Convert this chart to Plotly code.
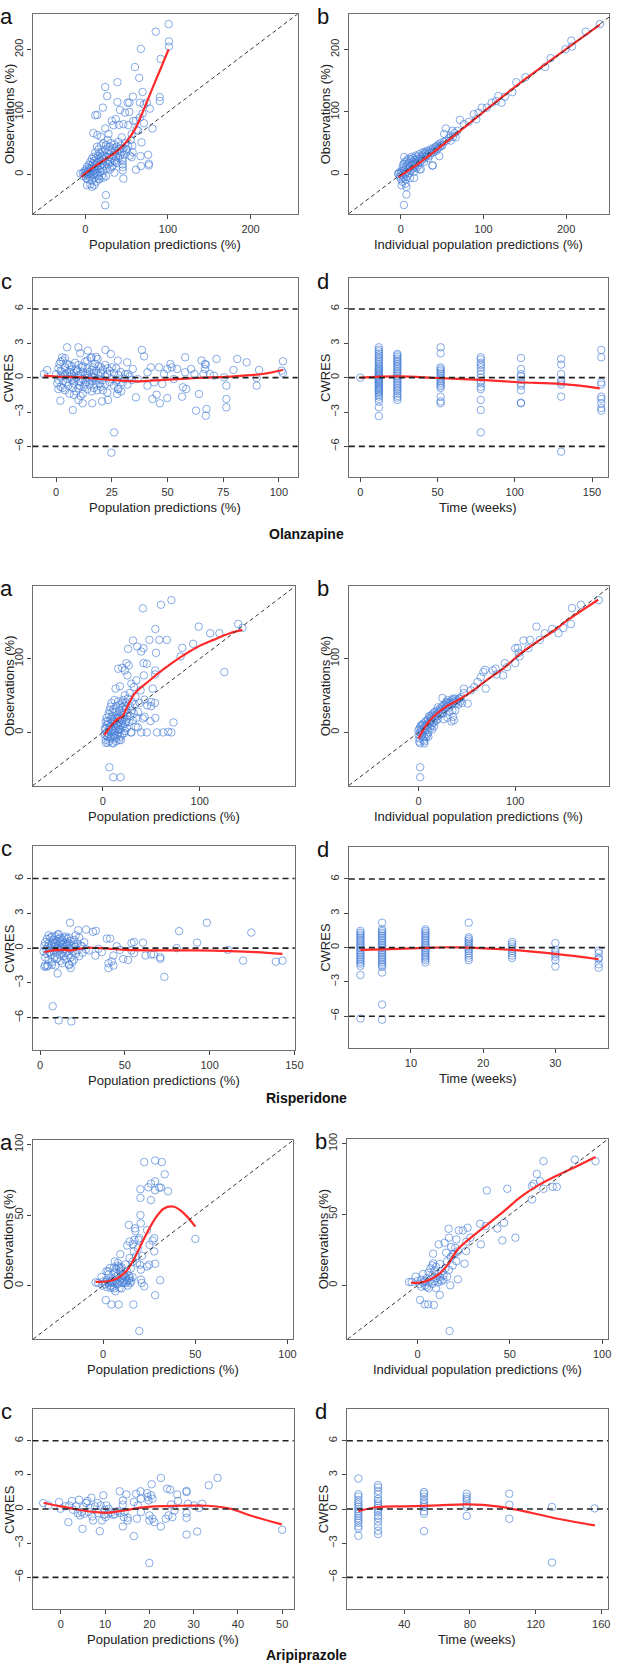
import plotly.graph_objects as go

W, H = 622, 1667

# ---------------- data ----------------
# Olanzapine a: population predictions vs observations
olz_a_points = [
    (100.8, 240.7), (85.2, 228.6), (101.2, 213), (101.2, 204.8), (67.2, 201), (91.2, 185), (60, 172),
    (65.2, 154.5), (24, 140), (38.8, 147.6), (26.4, 125.4), (57.6, 124.3), (69.2, 132), (90, 123.8),
    (90, 117.5), (38.8, 115.9), (51.2, 114.8), (53.2, 114.8), (66, 114.8), (70.8, 112), (74.4, 114.8),
    (78, 105.3), (21.2, 106.9), (12, 94.7), (14.4, 95.2), (42, 103), (53.2, 100), (48, 98.9), (66, 91),
    (69.2, 97.4), (58, 85.7), (61.2, 85.7), (32, 85.7), (36.8, 88.4), (46, 80.4), (40.8, 79.4), (34, 78.8),
    (52, 78.8), (70.8, 82), (81.2, 73.5), (24, 73.5), (9.6, 66.1), (14.4, 63), (18.8, 60.3), (28, 64.6),
    (44, 59.3), (56, 64.6), (62, 71.4), (64, 69.8), (68, 51.3), (76, 31.2), (76.8, 16.9), (76.8, 14.3),
    (66.8, 29.1), (67.2, 13.2), (61.2, 7.4), (45.2, 21.2), (45.2, 15.9), (45.2, 11.6), (45.2, 6.3),
    (46, -6.9), (35.2, 2.6), (24.8, -33.3), (24, -49.7), (56, 27.5), (56.8, 46), (50, 40.7), (57.2, 35.4),
    (39.2, 38.1), (36, 19.6), (32, 11.6), (6, -15.9), (2, -17.5), (8, -20.1), (10.8, -17.5), (16, -6.9),
    (22, -5.3), (-6, 1.1),
    (-3, 2), (-2, -3), (-1, 5), (0, -1), (0, 3), (1, 8), (1, -6), (2, 0), (2, 12), (3, 4), (3, -8), (4, 6),
    (4, 15), (5, 1), (5, -4), (5, 10), (6, 20), (6, 3), (7, -2), (7, 9), (8, 14), (8, 25), (8, -10), (9, 5),
    (9, 18), (10, 0), (10, 11), (10, 28), (11, -5), (11, 7), (11, 22), (12, 15), (12, 3), (12, 35), (13, 9),
    (13, 26), (13, -12), (14, 18), (14, 44), (14, 1), (15, 12), (15, 30), (15, -3), (16, 20), (16, 8),
    (16, 40), (17, 25), (17, -8), (18, 14), (18, 33), (18, 4), (19, 22), (19, 46), (20, 10), (20, 28),
    (20, -2), (21, 36), (21, 17), (22, 24), (22, 6), (22, 50), (23, 30), (23, 14), (24, 40), (24, 20),
    (25, -3), (25, 28), (25, 47), (26, 34), (26, 10), (27, 22), (27, 55), (28, 38), (28, 16), (29, 28),
    (29, 44), (30, 20), (30, 8), (31, 35), (31, 50), (32, 26), (33, 42), (33, 14), (34, 30), (35, 22),
    (35, 48), (36, 38), (37, 28), (38, 44), (38, 18), (39, 34), (40, 26), (40, 52), (41, 40), (42, 30),
    (43, 46), (44, 36), (45, 25), (46, 42), (47, 32), (48, 50), (50, 38), (52, 45), (54, 30), (55, 55),
]
olz_a_smooth_x = [-4.8, 2, 16, 32, 44, 52, 60, 68, 76, 84, 92, 100.8]
olz_a_smooth_y = [-4.2, 3.7, 16.9, 31, 44, 56, 72, 95, 121, 147, 172, 200.5]

# Olanzapine b: individual predictions vs observations
olz_b_points = [
    (240.9, 240.7), (223.8, 228.6), (206.3, 214.3), (207.1, 204.8), (199.2, 200.5), (181.3, 186.2),
    (174.6, 172), (150.8, 155.6), (139.7, 147.6), (134.9, 131.7), (125.8, 124.3), (117.9, 125.4),
    (115.1, 117.5), (109.9, 114.8), (121.8, 114.8), (104, 106.9), (98, 106.9), (94, 98.9), (88.1, 96.3),
    (91.3, 88.4), (82.1, 84.1), (71.4, 87.3), (76.2, 80.4), (68.3, 69.8), (62.3, 69.8), (54.4, 73.5),
    (52.4, 64.6), (60.3, 54), (66.3, 59.3), (48.4, 46), (46.4, 29.1), (38.5, 14.3), (22.6, 7.9), (3.2, 16.9),
    (4, 27.5), (5.6, -14.8), (0.8, -17.5), (6.7, -20.1), (6.7, -32.3), (3.6, -49.2), (15.9, -5.8), (-3.2, 1.1),
    (-3, 0), (-2, 3), (-1, -4), (0, 2), (0, -8), (1, 5), (1, -2), (2, 10), (2, -12), (3, 1), (3, 14), (4, -5),
    (4, 7), (5, 20), (5, 0), (6, 12), (6, -8), (7, 4), (7, 22), (8, -3), (8, 15), (9, 8), (9, 25), (10, 2),
    (10, 18), (11, 11), (11, -6), (12, 24), (12, 6), (13, 16), (13, 28), (14, 9), (14, 20), (15, 14),
    (15, 26), (16, 4), (16, 18), (17, 23), (17, 12), (18, 30), (18, 17), (19, 10), (19, 25), (20, 20),
    (20, 28), (21, 14), (22, 24), (22, 32), (23, 19), (24, 27), (24, 8), (25, 22), (26, 30), (26, 35),
    (27, 25), (28, 32), (28, 20), (29, 36), (30, 28), (30, 34), (31, 30), (32, 38), (33, 26), (33, 33),
    (34, 36), (35, 30), (36, 40), (37, 34), (38, 38), (38, 14), (39, 42), (40, 36), (41, 40), (42, 44),
    (43, 38), (44, 46), (45, 42), (46, 48), (47, 44), (48, 50), (50, 46), (52, 52), (55, 54), (58, 58),
    (60, 62), (63, 60), (65, 66),
]
olz_b_smooth_x = [-3, 20, 44, 100, 150, 241]
olz_b_smooth_y = [-4, 16, 40, 100, 152, 240]

# Olanzapine c: population predictions vs CWRES
olz_c_points = [
    (-5.5, 0.32), (-4, 0.67), (4.9, 2.65), (10, 2.65), (2.7, 1.78), (10.8, 2.13), (14.2, 2.36), (22.1, 2.42),
    (24.5, 2.07), (15.9, 1.78), (18.6, 1.63), (27.7, 1.49), (31.9, 1.34), (38.5, 2.42), (39.5, 1.86),
    (1.9, -2.01), (7.5, -2.83), (10, -1.95), (11.9, -2.24), (16.2, -2.24), (20.6, -2.07), (23.3, -1.95),
    (26, -4.78), (24.8, -6.55), (27.4, -1.43), (29.2, -1.19), (35.8, -1.72), (43.2, -1.86), (45.1, -1.49),
    (46.6, -2.24), (49.9, -1.78), (56.5, -1.66), (58.4, -0.99), (56.9, -0.84), (62.8, -2.88), (64.1, -1.43),
    (67.5, -2.74), (67.2, -3.32), (76.4, -2.59), (76.4, -1.86), (76.4, -0.70), (90, -0.70), (90, -0.03),
    (91.1, 0.67), (101.2, 0.61), (101.8, 1.43), (101.8, 0.41), (85.5, 1.34), (81.3, 1.63), (72, 1.63),
    (79.6, 0.67), (75.4, 0.03), (70.8, 0.17), (65.3, 1.49), (66.8, 1.19), (66.8, 0.76), (67.2, 1.14),
    (62.1, 0.32), (60.6, 0.76), (57.9, 1.78), (57.9, 0.47), (54.3, 0.76), (51.3, 1.19), (51.9, 0.9),
    (49.9, 0.76), (46.2, 0.9), (69, 0.32), (66.1, 0.32), (52.8, -0.12), (48.4, 0.32), (44, -0.41),
    (47.6, -0.55), (41, -0.70), (41, 0.47), (42.5, 0.9), (36.6, -0.12), (34.4, 0.76), (32.2, 0.32),
    (30.7, -0.12), (27.4, -0.2), (27.7, -0.99),
    (0, 0.3), (0.5, -0.5), (1, 0.8), (1, -0.2), (1.5, 1.2), (2, 0.1), (2, -0.8), (2.5, 0.5), (3, -0.3),
    (3, 1.5), (3.5, 0.2), (4, -1.1), (4, 0.9), (4.5, -0.4), (5, 0.4), (5, 1.2), (5.5, -0.7), (6, 0.1),
    (6, -1.4), (6.5, 0.7), (7, -0.2), (7, 1.0), (7.5, -0.9), (8, 0.4), (8, -0.5), (8.5, 1.3), (9, 0.0),
    (9, -1.2), (9.5, 0.6), (10, -0.3), (10, 1.1), (10.5, -0.7), (11, 0.3), (11, -1.6), (11.5, 0.9),
    (12, -0.1), (12, 0.5), (12.5, -0.8), (13, 1.4), (13, 0.2), (13.5, -0.4), (14, 0.8), (14, -1.0),
    (14.5, 0.0), (15, 0.5), (15, -0.6), (15.5, 1.7), (16, 0.1), (16, -0.3), (16.5, 0.9), (17, -0.9),
    (17, 0.4), (17.5, 1.2), (18, -0.2), (18, 0.6), (18.5, -1.1), (19, 0.2), (19, 1.0), (19.5, -0.5),
    (20, 0.4), (20, -0.8), (21, 0.7), (21, -0.2), (22, 1.1), (22, -0.6), (23, 0.3), (23, -1.3), (24, 0.6),
    (24, -0.4), (25, 0.9), (25, -0.1), (26, -0.7), (26, 0.4), (27, 0.8), (27, -0.3), (28, 0.2), (28, -1.0),
    (29, 0.5), (30, -0.4), (31, 0.3), (32, -0.6), (33, 0.1), (34, -0.2), (2, 0.6), (3, -0.9), (4, 0.3),
    (5, -0.1), (6, 0.5), (7, 0.3), (8, -0.1), (9, 0.7), (10, 0.2), (11, -0.4), (12, 1.0), (13, -0.6),
    (14, 0.3), (15, -0.2), (16, 0.7), (17, 0.0), (18, -0.6), (19, -0.1), (20, 0.9), (21, -1.1), (22, 0.1),
    (23, 0.8), (1, -1.0), (2, 1.4), (4, 1.7), (6, 1.1), (8, -1.5), (10, -0.9), (12, -1.4), (14, 1.5),
    (16, -1.2), (18, 1.8),
]
olz_c_smooth_x = [-5.5, 0, 11.5, 18.9, 29.2, 36.6, 48.4, 63.1, 77.9, 92.6, 101.8]
olz_c_smooth_y = [0.17, 0.09, 0.03, -0.12, -0.26, -0.32, -0.2, -0.03, 0.09, 0.32, 0.67]

# Olanzapine d: time (weeks) vs CWRES, one list per visit
olz_d_visits = [0, 12, 24, 52, 78, 104, 130, 156]
olz_d_cwres = [
    [0.0],
    [2.65, 2.45, 2.3, 2.1, 1.95, 1.8, 1.65, 1.5, 1.35, 1.2, 1.05, 0.9, 0.8, 0.7, 0.6, 0.5, 0.4, 0.3, 0.2,
     0.1, 0.0, -0.1, -0.2, -0.3, -0.4, -0.5, -0.6, -0.7, -0.8, -0.9, -1.0, -1.1, -1.2, -1.35, -1.5, -1.65,
     -1.86, -2.1, -2.59, -3.35],
    [2.07, 1.95, 1.8, 1.65, 1.5, 1.35, 1.2, 1.05, 0.9, 0.75, 0.6, 0.45, 0.3, 0.15, 0.0, -0.15, -0.3, -0.45,
     -0.6, -0.75, -0.9, -1.05, -1.2, -1.4, -1.6, -1.75, -1.95],
    [2.65, 2.13, 0.9, 0.75, 0.6, 0.45, 0.3, 0.15, 0.0, -0.15, -0.3, -0.45, -0.6, -0.75, -0.9, -1.66, -2.07,
     -2.24],
    [1.78, 1.6, 1.3, 1.1, 0.9, 0.6, 0.3, 0.0, -0.3, -0.5, -0.8, -1.0, -1.95, -2.83, -4.78],
    [1.72, 0.76, 0.3, 0.1, -0.2, -0.5, -0.7, -1.1, -2.18, -2.24],
    [1.63, 1.14, 0.32, -0.2, -0.4, -0.6, -1.66, -6.46],
    [2.42, 1.78, -0.41, -0.6, -1.66, -1.86, -2.24, -2.65, -2.88],
]
olz_d_smooth_x = [0, 24, 50, 78, 103, 130, 155]
olz_d_smooth_y = [0, 0.12, -0.03, -0.2, -0.4, -0.55, -0.93]

# Risperidone a
ris_a_points = [
    (70.8, 179.7), (60, 173.4), (41.4, 168.5), (54.2, 140.5), (99, 143.7), (110.8, 134.7), (120.3, 134.7),
    (139.7, 147.3), (144.1, 141.9), (31.2, 124.8), (48.1, 125.7), (58.3, 125.7), (66.1, 125.7), (35.6, 116.7),
    (42, 114.4), (26.1, 113.5), (39.7, 109.9), (54.9, 108.1), (82, 114.9), (93.2, 120.3), (80.3, 103.2),
    (42, 94.1), (45.4, 93.2), (24.4, 94.1), (26.8, 91), (15.9, 86.5), (20, 87.8), (22.7, 84.2), (25.4, 77.5),
    (42.4, 77.5), (54.2, 84.2), (53.9, 78.8), (125.4, 82), (34.6, 70.7), (29.5, 66.2), (13.2, 59.5),
    (17.6, 62.6), (32.2, 61.7), (51.5, 59.5), (39, 57.2), (27.8, 53.6), (22.7, 50.5), (33.6, 48.2),
    (43.1, 44.6), (38, 40.1), (49.8, 41.4), (53.9, 40.1), (45.8, 36.9), (49.8, 35.6), (36.3, 27.9),
    (43.1, 21.2), (41.4, 18.9), (54.2, 19.8), (49.2, 15.3), (36.3, 6.8), (39.7, 0), (45.4, 0), (55.9, 0),
    (62.4, 0), (67.5, 0.9), (70.8, 0), (72.9, 13.5), (29.5, 0), (6.8, -47.3), (10.8, -60.8), (18.3, -60.8),
    (3.1, -14), (10.8, -14.9), (18.6, -10.4),
    (2, -3), (3, 5), (3, -10), (4, 10), (4, 0), (5, -6), (5, 15), (6, 3), (6, 25), (7, -12), (7, 8), (7, 30),
    (8, 0), (8, 18), (9, -5), (9, 12), (9, 40), (10, 4), (10, 22), (10, -14), (11, 9), (11, 32), (11, -2),
    (12, 15), (12, 2), (12, 44), (13, -8), (13, 20), (13, 28), (14, 6), (14, 12), (14, 36), (15, -4),
    (15, 24), (15, 18), (16, 8), (16, 42), (16, 0), (17, 14), (17, 30), (17, -10), (18, 22), (18, 4),
    (18, 38), (19, 10), (19, 26), (20, 16), (20, -3), (20, 34), (21, 8), (21, 44), (22, 20), (22, 28),
    (23, 2), (23, 12), (24, 32), (24, 40), (25, 18), (25, 6), (26, 26), (26, 46), (27, 14), (28, 36),
    (28, 22), (29, 0), (30, 30), (30, 42), (31, 16), (32, 26), (33, 38), (34, 8), (35, 20), (4, 20),
    (5, -14), (6, -2), (8, -8), (10, 28), (12, -5), (14, -12), (16, 20), (18, -6), (20, 40), (22, -1),
    (24, 14), (8, 35), (6, 12), (3, 15), (9, 2), (11, 16), (13, 4), (15, 10), (17, 4), (19, 18), (21, 24),
    (23, 36), (2, 5), (4, -4),
]
ris_a_smooth_x = [1.7, 9.2, 15.9, 20, 24.4, 32.9, 46.4, 63.4, 80.3, 97.3, 114.2, 131.2, 144]
ris_a_smooth_y = [-3.6, 9.9, 18.9, 21.2, 32.4, 52.7, 68.5, 86.5, 102.3, 115.8, 125.7, 134.7, 139.2]

# Risperidone b
ris_b_points = [
    (186.4, 179.7), (167.8, 173.4), (158.6, 168.9), (157.6, 147.3), (149.8, 141.9), (144.7, 134.7),
    (138.3, 140.5), (130.5, 134.7), (122, 143.7), (125.4, 125.7), (115.3, 125.7), (108.5, 124.8),
    (113.6, 114.4), (102.7, 114.9), (100, 114.4), (103.4, 108.1), (104.4, 103.2), (100, 94.1), (89.2, 94.1),
    (91.5, 88.7), (87.5, 77.5), (80.7, 78.8), (76.9, 84.2), (79.7, 86.5), (68.8, 85.1), (67.1, 82),
    (64.4, 75.2), (69.5, 59.5), (61, 68.5), (57.6, 61.7), (54.2, 57.2), (46.8, 59.5), (46.8, 53.6),
    (50.8, 39.2), (42.4, 45.9), (35.6, 45.9), (24.7, 46.8), (28.8, 41.4), (36.6, 16.7), (35.6, 21.2),
    (25.4, 25.7), (1.7, -47.3), (1.7, -60.8), (0.7, -12.6), (1.7, -14.9), (6.1, -14.9), (10.2, -5.9),
    (0, -3), (0, 3), (1, -8), (1, 5), (2, 0), (2, 8), (3, -5), (3, 4), (4, 10), (4, -2), (5, 2), (5, 12),
    (6, 6), (6, -6), (7, 14), (7, 9), (8, 4), (8, 16), (9, 11), (9, -3), (10, 18), (10, 8), (11, 14),
    (11, 22), (12, 12), (12, 6), (13, 20), (13, 16), (14, 24), (14, 10), (15, 18), (15, 26), (16, 22),
    (16, 14), (17, 28), (17, 20), (18, 24), (18, 16), (19, 30), (19, 22), (20, 26), (20, 18), (21, 28),
    (22, 32), (22, 24), (23, 30), (24, 26), (24, 34), (25, 36), (26, 30), (27, 38), (27, 32), (28, 34),
    (29, 40), (30, 36), (30, 44), (31, 38), (32, 40), (32, 34), (33, 42), (34, 38), (35, 44), (36, 40),
    (37, 42), (38, 46), (39, 40), (40, 44), (41, 38), (42, 46), (43, 42), (44, 48), (45, 40), (14, 4),
    (10, 0), (6, -12), (8, -6), (3, 10), (5, -10), (12, 22), (16, 8), (20, 34), (26, 18), (30, 20),
    (32, 28), (35, 30), (34, 15), (38, 30),
]
ris_b_smooth_x = [0, 6.8, 15.3, 27.1, 40.7, 54.2, 71.2, 88.1, 105.1, 122, 139, 155.9, 185.8]
ris_b_smooth_y = [-8.1, 7.7, 21.2, 33.8, 43.7, 55, 71.6, 87.4, 106.8, 122.5, 137.4, 154.1, 180.2]

# Risperidone c
ris_c_points = [
    (17.6, 2.18), (22.5, 1.54), (27.1, 1.6), (31.2, 1.4), (32.9, 1.49), (10.3, 1.17), (82, 1.46),
    (98.4, 2.18), (92.6, 0.47), (124.6, 1.34), (80.6, 0), (110.7, -0.15), (119.8, -1.08), (139.1, -1.17),
    (143, -1.08), (73.3, -2.48), (70.9, -0.79), (70.9, -0.93), (65.5, -0.55), (67.1, -0.55), (60.7, 0.47),
    (62.2, -0.64), (55.4, 0.52), (53.9, 0.44), (53.9, -0.2), (55.4, -0.44), (51.9, -1.02), (49, -0.93),
    (47.1, -0.15), (45.2, 0.15), (43.2, -0.64), (43.2, -1.51), (40.3, -1.31), (40.3, -1.72), (42.2, -1.14),
    (41.3, 0.82), (39.3, 0.82), (36.4, -0.35), (34.5, -0.06), (32.6, -0.64), (28.7, -0.2), (24.8, 0.15),
    (7.4, -5.01), (10.9, -6.23), (18.4, -6.32), (2.5, -1.6), (4.5, -1.51), (10.3, -2.18), (18, -1.72),
    (17.1, -1.46), (7, -1.43),
    (2, -0.3), (2.5, 0.2), (3, -0.8), (3, 0.5), (3.5, -0.1), (4, 0.8), (4, -0.5), (4.5, 0.1), (5, -1.0),
    (5, 0.4), (5.5, -0.3), (6, 0.9), (6, 0.0), (6.5, -0.6), (7, 0.3), (7, -1.2), (7.5, 0.7), (8, -0.2),
    (8, 0.5), (8.5, -0.8), (9, 0.1), (9, 1.0), (9.5, -0.4), (10, 0.6), (10, -0.9), (10.5, 0.2), (11, -0.2),
    (11, 0.8), (11.5, -0.6), (12, 0.4), (12, -1.1), (12.5, 0.0), (13, 0.7), (13, -0.4), (13.5, 0.3),
    (14, -0.7), (14, 0.9), (14.5, -0.1), (15, 0.5), (15, -1.0), (15.5, 0.2), (16, -0.3), (16, 0.8),
    (16.5, -0.6), (17, 0.4), (17, -1.4), (17.5, 0.0), (18, 0.6), (18, -0.8), (19, 0.2), (19, -0.3),
    (20, 0.7), (20, -1.0), (21, 0.1), (21, -0.5), (22, 0.4), (22, -0.2), (23, 0.9), (23, -0.7), (24, 0.2),
    (25, -0.4), (26, 0.5), (27, -0.1), (5, 1.1), (7, 1.0), (9, -1.5), (11, 1.2), (13, -1.3), (15, 1.0),
    (17, 0.9), (19, -1.2), (21, 1.1), (3, -1.5), (4, -1.6), (6, -0.4), (8, 0.2), (10, 0.0), (12, 0.9),
    (14, 0.1), (16, 0.3), (18, -0.1), (20, 0.3), (9, 0.4), (11, -0.1), (13, 0.5), (15, -0.4),
]
ris_c_smooth_x = [2.5, 7.4, 13.2, 18, 22.9, 30.6, 38.4, 50, 73.3, 92.6, 112, 127.5, 143]
ris_c_smooth_y = [-0.35, -0.2, -0.15, -0.2, -0.06, 0.03, -0.03, -0.15, -0.2, -0.2, -0.26, -0.35, -0.5]

# Risperidone d
ris_d_visits = [3, 6, 12, 18, 24, 30, 36]
ris_d_cwres = [
    [1.46, 1.3, 1.15, 1.0, 0.85, 0.7, 0.55, 0.4, 0.25, 0.1, -0.05, -0.2, -0.35, -0.5, -0.65, -0.8, -0.95,
     -1.1, -1.25, -1.4, -1.6, -2.4, -6.2],
    [2.18, 1.6, 1.45, 1.3, 1.15, 1.0, 0.85, 0.7, 0.55, 0.4, 0.25, 0.1, -0.05, -0.2, -0.35, -0.5, -0.65,
     -0.8, -0.95, -1.1, -1.25, -1.4, -1.55, -1.7, -2.18, -4.98, -6.3],
    [1.6, 1.45, 1.3, 1.15, 1.0, 0.85, 0.7, 0.55, 0.4, 0.25, 0.1, -0.05, -0.2, -0.35, -0.5, -0.65, -0.8,
     -0.95, -1.1, -1.3],
    [2.18, 0.9, 0.75, 0.6, 0.45, 0.3, 0.15, 0.0, -0.15, -0.3, -0.5, -0.7, -0.9, -1.1],
    [0.5, 0.3, 0.1, -0.1, -0.3, -0.5, -0.7, -0.9],
    [0.4, -0.2, -0.4, -0.6, -0.8, -1.1, -1.66],
    [-0.26, -0.5, -0.9, -1.0, -1.46, -1.75],
]
ris_d_smooth_x = [3, 6, 12, 15.2, 18, 24, 30, 36]
ris_d_smooth_y = [-0.2, -0.15, -0.03, 0.03, 0, -0.2, -0.55, -1.02]

# Aripiprazole a
ari_a_points = [
    (-4.1, 2.3), (-2.7, 1.9), (-0.9, 6.1), (-0.4, 0), (1.3, 2.6), (1.8, 10.1), (1.4, -10.3), (2.7, 10.1),
    (3.6, 12.4), (3.9, -1.6), (4.5, -13.4), (4.8, 1.9), (5.4, 3.1), (5.9, 12.9), (6.3, 17.1), (6.6, -4),
    (7.1, 6.6), (7.7, 1.9), (8, 16), (8.4, -13.4), (8.6, 12.9), (8.9, -1.6), (9.3, 22.3), (9.5, 12.4),
    (9.8, 4.7), (10.2, 1.9), (10.7, 7), (11.6, 7.7), (12.5, 1.9), (13, 28.4), (13.4, 0), (13.9, 43),
    (14.3, 31.2), (14.3, 19.5), (14.5, 5.4), (14.8, 1.9), (15.2, 3.1), (16.1, 29.3), (16.4, -13.4),
    (16.6, 24.2), (17, 32.4), (17.3, 40.6), (17.5, 38.7), (17.9, 20.7), (18.4, 16), (18.8, 26.5),
    (19.1, 32.4), (19.6, 33.6), (20, 14.8), (20.2, 68.3), (20.2, 62.2), (20.2, 50), (20.4, 44.1),
    (20.5, 11.3), (20.5, 4.2), (20.9, 1.9), (21.1, 21.1), (22.3, 87.6), (22.3, -0.5), (23.8, 39.4),
    (23.8, 13.6), (24.5, 69.7), (25, 14.8), (25.2, 28.9), (25.9, 60.6), (25.9, 72.3), (26.8, 31.9),
    (27.7, 33.6), (27.7, 24.2), (28.2, 88.7), (28.2, 73.9), (28.2, 67.6), (28.2, 15.5), (28.2, -6.8),
    (30.4, 69.5), (31.3, 69.5), (30.9, 3.8), (31.8, 87.6), (33.4, 78.9), (35.2, 66.9), (19.6, -32.2),
    (50, 33.1),
    (0, 3), (1, 1), (2, 4), (3, 2), (3, 8), (4, 0), (5, 5), (5, -1), (6, 2), (6, 9), (7, 4), (7, 12), (8, 1),
    (8, 7), (9, 3), (9, 10), (10, 5), (10, 13), (11, 2), (11, 8), (12, 4), (12, 6), (13, 10), (13, 3),
    (14, 7), (15, 12), (16, 6), (4, 3), (2, -1), (6, -2), (8, 14), (10, -2), (12, 15), (14, 4), (16, 17),
]
ari_a_smooth_x = [-4.1, 2.7, 8, 12.5, 17, 22.3, 27.7, 33, 38.4, 43.8, 50]
ari_a_smooth_y = [2.6, 3.1, 5.4, 10.1, 19.5, 33.6, 46.5, 54.7, 55.9, 51.2, 41.8]

# Aripiprazole b
ari_b_points = [
    (96.4, 87.6), (85.2, 88.7), (68.2, 87.6), (64.6, 78.6), (66.4, 73.5), (62.9, 71.6), (62, 70),
    (73.2, 69.5), (75.4, 69.5), (68.2, 68.1), (48.6, 68.1), (37.5, 66.9), (62, 60.6), (33.9, 43.4),
    (36.9, 41.8), (34.3, 28.9), (43.2, 40.1), (46.8, 44.1), (45.9, 31.7), (53, 33.6), (27.1, 40.6),
    (24.5, 38.7), (22.3, 38.7), (16.8, 39.9), (17, 33.6), (21, 32.4), (26.4, 30.8), (28.6, 33.6),
    (14.6, 30), (11.4, 28.9), (18.2, 27), (15.5, 23), (19.1, 21.8), (20.4, 26.5), (26.3, 24.2),
    (25.4, 15.3), (21.8, 4.2), (17.7, 0), (12, -6.8), (8.4, 15.5), (8.4, 22.3), (1.3, -10.3), (3.9, -13.4),
    (5.7, -13.4), (8.8, -13.8), (17.3, -32.2), (-4.6, 2.3), (-3.2, 2.3), (-1.1, 6.1),
    (0, 3), (1, 1), (2, 4), (3, 2), (3, 8), (4, 0), (5, 5), (5, -1), (6, 2), (6, 9), (7, 4), (7, 12), (8, 1),
    (8, 7), (9, 3), (9, 10), (10, 5), (10, 13), (11, 2), (11, 8), (12, 4), (12, 6), (13, 10), (13, 3),
    (14, 7), (15, 12), (16, 6), (4, 3), (2, -1), (6, -2), (8, 14), (10, -2), (12, 15), (14, 4), (16, 17),
    (17, 11), (18, 20), (19, 14), (20, 22), (21, 17), (22, 24),
]
ari_b_smooth_x = [-3.6, 1.3, 5.7, 11.1, 16.4, 21.8, 28.9, 37.9, 46.8, 55.7, 64.6, 73.6, 82.5, 96.4]
ari_b_smooth_y = [1.9, 1.9, 3.5, 7.3, 14.8, 25.4, 33.6, 43, 52.3, 62.2, 70, 76.3, 81.7, 90.6]

# Aripiprazole c
ari_c_points = [
    (-4, 0.53), (-2.8, 0.32), (-0.4, 0.62), (-0.1, 0.03), (1, 0.24), (1.7, -1.15), (1.9, 0.32), (2.5, 0.71),
    (2.8, -0.06), (3.4, 0.24), (3.8, -0.35), (4.1, 0.82), (4.3, -0.56), (4.7, -0.26), (4.9, -1.74),
    (5.1, 0.18), (5.3, -0.41), (5.7, 0.53), (6, 0.71), (6.3, -0.26), (6.9, 1), (7.1, -0.65), (7.3, -1),
    (7.7, 0.24), (8.3, 0.53), (8.4, -0.35), (8.8, -1.94), (9, 0.32), (9.3, -1), (9.6, 1.21), (9.8, -0.5),
    (9.9, -0.06), (10.1, -0.71), (10.3, 0.32), (10.8, 0.03), (11.8, -0.5), (12.8, -0.18), (13.3, 1.56),
    (13.5, -0.35), (14, 0.76), (14, 0.38), (14, -1.53), (14.2, -0.71), (14.4, -0.26), (14.8, 1.29),
    (15.1, -1), (15.1, -0.76), (16.5, 0.62), (16.5, -2.38), (17, 1.35), (17.2, -0.85), (17.4, 0.32),
    (18, 1.56), (18.1, 0.91), (18.1, -0.26), (19.5, 1.41), (19.6, 1.06), (19.8, 0.76), (20, -0.56),
    (20, -1), (20, -4.74), (20.4, 1.21), (20.5, 2.18), (20.7, 0.91), (20.7, -0.85), (21.1, -1.15),
    (22.6, 2.74), (22.6, -1.53), (23.7, -0.85), (24, 1.79), (24.3, -0.56), (24.7, 1.71), (24.9, 0.41),
    (25.2, -0.71), (25.7, -0.12), (26.3, 1.29), (26.5, 0.71), (28.4, 1.59), (28.4, 1.5), (28.4, -0.35),
    (28.4, -0.76), (28.4, -2.24), (28.7, 0.47), (30.1, 0.32), (30.8, -1.97), (31.2, 0.09), (31.9, 0.47),
    (33.4, 2.09), (35.4, 2.74), (50, -1.82), (10.7, -0.41), (6.6, 0.1), (11.3, -0.3), (12.2, -0.45),
]
ari_c_smooth_x = [-3.9, 0, 4, 7.7, 10.7, 14.4, 18.1, 21.1, 27.1, 33.1, 38.3, 42.8, 49.9]
ari_c_smooth_y = [0.56, 0.24, -0.06, -0.26, -0.32, -0.12, 0.12, 0.24, 0.29, 0.29, 0.03, -0.56, -1.35]

# Aripiprazole d
ari_d_visits = [12, 24, 52, 78, 104, 130, 156]
ari_d_cwres = [
    [2.68, 1.3, 1.1, 0.8, 0.6, 0.4, 0.2, 0.0, -0.2, -0.4, -0.6, -0.8, -1.0, -1.2, -1.5, -1.7, -2.35],
    [2.1, 1.9, 1.6, 1.3, 0.9, 0.7, 0.5, 0.3, 0.1, -0.1, -0.3, -0.6, -0.8, -1.1, -1.5, -1.9, -2.2],
    [1.5, 1.35, 1.1, 0.8, 0.6, 0.4, 0.2, -0.2, -0.4, -1.94],
    [1.35, 1.1, 0.9, 0.7, 0.4, 0.2, -0.6],
    [1.35, 0.38, -0.85],
    [0.18, -4.7],
    [0.06],
]
ari_d_smooth_x = [12, 24, 40.6, 60.6, 78.6, 96.6, 112.6, 130.6, 156.2]
ari_d_smooth_y = [-0.18, 0.18, 0.24, 0.32, 0.41, 0.24, -0.18, -0.76, -1.44]

group_titles = ["Olanzapine", "Risperidone", "Aripiprazole"]
cwres_ticks = [-6, -3, 0, 3, 6]
cwres_limits = [-6, 0, 6]


def split(points):
    return [p[0] for p in points], [p[1] for p in points]


def expand(visits, values):
    xs, ys = [], []
    for t, col in zip(visits, values):
        for v in col:
            xs.append(t)
            ys.append(v)
    return xs, ys


# ---------------- layout geometry (pixels) ----------------
PANELS = [
    dict(pts=split(olz_a_points), sm=(olz_a_smooth_x, olz_a_smooth_y), box=(33, 8, 302, 209),
         xr=[-64, 257], yr=[-64, 257], xt=[0, 100, 200], yt=[0, 100, 200], kind="id",
         xtitle="Population predictions (%)", ytitle="Observations (%)", letter="a"),
    dict(pts=split(olz_b_points), sm=(olz_b_smooth_x, olz_b_smooth_y), box=(354, 8, 618, 209),
         xr=[-63, 252], yr=[-64, 257], xt=[0, 100, 200], yt=[0, 100, 200], kind="id",
         xtitle="Individual population predictions (%)", ytitle="Observations (%)", letter="b"),
    dict(pts=split(olz_c_points), sm=(olz_c_smooth_x, olz_c_smooth_y), box=(33, 273, 302, 473),
         xr=[-10.6, 108.4], yr=[-8.7, 8.7], xt=[0, 25, 50, 75, 100], yt=cwres_ticks, kind="res",
         xtitle="Population predictions (%)", ytitle="CWRES", letter="c"),
    dict(pts=expand(olz_d_visits, olz_d_cwres), sm=(olz_d_smooth_x, olz_d_smooth_y), box=(354, 273, 617, 473),
         xr=[-7.4, 160.4], yr=[-8.7, 8.7], xt=[0, 50, 100, 150], yt=cwres_ticks, kind="res",
         xtitle="Time (weeks)", ytitle="CWRES", letter="d"),
    dict(pts=split(ris_a_points), sm=(ris_a_smooth_x, ris_a_smooth_y), box=(33, 582, 299, 783),
         xr=[-72.5, 198], yr=[-73, 199], xt=[0, 100], yt=[0, 100], kind="id",
         xtitle="Population predictions (%)", ytitle="Observations (%)", letter="a"),
    dict(pts=split(ris_b_points), sm=(ris_b_smooth_x, ris_b_smooth_y), box=(354, 582, 618, 783),
         xr=[-72, 197], yr=[-73, 199], xt=[0, 100], yt=[0, 100], kind="id",
         xtitle="Individual population predictions (%)", ytitle="Observations (%)", letter="b"),
    dict(pts=split(ris_c_points), sm=(ris_c_smooth_x, ris_c_smooth_y), box=(33, 843, 299, 1048),
         xr=[-4.5, 150.2], yr=[-8.8, 8.8], xt=[0, 50, 100, 150], yt=cwres_ticks, kind="res",
         xtitle="Population predictions (%)", ytitle="CWRES", letter="c"),
    dict(pts=expand(ris_d_visits, ris_d_cwres), sm=(ris_d_smooth_x, ris_d_smooth_y), box=(354, 844, 617, 1046),
         xr=[1.4, 37.3], yr=[-8.8, 8.8], xt=[10, 20, 30], yt=cwres_ticks, kind="res",
         xtitle="Time (weeks)", ytitle="CWRES", letter="d"),
    dict(pts=split(ari_a_points), sm=(ari_a_smooth_x, ari_a_smooth_y), box=(33, 1138, 297, 1338),
         xr=[-38.3, 102.8], yr=[-38, 103.3], xt=[0, 50, 100], yt=[0, 50, 100], kind="id",
         xtitle="Population predictions (%)", ytitle="Observations (%)", letter="a"),
    dict(pts=split(ari_b_points), sm=(ari_b_smooth_x, ari_b_smooth_y), box=(352, 1137, 617, 1338),
         xr=[-38.3, 103.2], yr=[-38, 103.3], xt=[0, 50, 100], yt=[0, 50, 100], kind="id",
         xtitle="Individual population predictions (%)", ytitle="Observations (%)", letter="b"),
    dict(pts=split(ari_c_points), sm=(ari_c_smooth_x, ari_c_smooth_y), box=(33, 1408, 298, 1609),
         xr=[-6.4, 52.6], yr=[-8.8, 8.8], xt=[0, 10, 20, 30, 40, 50], yt=cwres_ticks, kind="res",
         xtitle="Population predictions (%)", ytitle="CWRES", letter="c"),
    dict(pts=expand(ari_d_visits, ari_d_cwres), sm=(ari_d_smooth_x, ari_d_smooth_y), box=(352, 1408, 617, 1609),
         xr=[5, 164.2], yr=[-8.8, 8.8], xt=[40, 80, 120, 160], yt=cwres_ticks, kind="res",
         xtitle="Time (weeks)", ytitle="CWRES", letter="d"),
]
TITLE_Y = [530, 1096, 1655]

FONT = "Liberation Sans, Arial, sans-serif"
PT_COLOR = "rgba(70,125,215,0.72)"
LOESS = "#FF2A2A"
FRAME = "#6E6E6E"


def px(x):
    return x / W


def py(y):
    return 1 - y / H


fig = go.Figure()
layout = dict(width=W, height=H, margin=dict(l=0, r=0, t=0, b=0), showlegend=False,
              plot_bgcolor="white", paper_bgcolor="white", font=dict(family=FONT, color="#222"))
shapes, annotations = [], []

for i, p in enumerate(PANELS, start=1):
    sx = "" if i == 1 else str(i)
    xa, ya = "x" + sx, "y" + sx
    L, T, R, B = p["box"]
    axis_common = dict(showgrid=False, zeroline=False, showline=True, mirror=True, linecolor=FRAME,
                       linewidth=1.4, ticks="outside", ticklen=4, tickwidth=1, tickcolor="#444",
                       tickfont=dict(family=FONT, size=11, color="#333"), tickmode="array")
    layout["xaxis" + sx] = dict(axis_common, domain=[px(L), px(R)], range=p["xr"], anchor=ya,
                                tickvals=p["xt"])
    layout["yaxis" + sx] = dict(axis_common, domain=[py(B), py(T)], range=p["yr"], anchor=xa,
                                tickvals=p["yt"], tickangle=-90)
    xs, ys = p["pts"]
    fig.add_trace(go.Scatter(x=xs, y=ys, mode="markers", xaxis=xa, yaxis=ya, hoverinfo="skip",
                             marker=dict(symbol="circle-open", size=7.5, color=PT_COLOR,
                                         line=dict(width=0.9, color=PT_COLOR))))
    fig.add_trace(go.Scatter(x=p["sm"][0], y=p["sm"][1], mode="lines", xaxis=xa, yaxis=ya,
                             hoverinfo="skip", line=dict(color=LOESS, width=2.2, shape="spline")))
    if p["kind"] == "id":
        lo = max(p["xr"][0], p["yr"][0])
        hi = min(p["xr"][1], p["yr"][1])
        shapes.append(dict(type="line", xref=xa, yref=ya, x0=lo, y0=lo, x1=hi, y1=hi,
                           line=dict(color="#333", width=1, dash="4px,3px")))
    else:
        for v in cwres_limits:
            shapes.append(dict(type="line", xref=xa + " domain", yref=ya, x0=0, x1=1, y0=v, y1=v,
                               line=dict(color="#222", width=1.6, dash="6px,4px")))
    # axis titles and panel letter
    annotations.append(dict(text=p["xtitle"], xref="paper", yref="paper", x=px((L + R) / 2),
                            y=py(B + 30), xanchor="center", yanchor="middle", showarrow=False,
                            font=dict(family=FONT, size=13, color="#222")))
    annotations.append(dict(text=p["ytitle"], xref="paper", yref="paper", x=px(L - 24),
                            y=py((T + B) / 2), xanchor="center", yanchor="middle", textangle=-90,
                            showarrow=False, font=dict(family=FONT, size=13, color="#222")))
    annotations.append(dict(text=p["letter"], xref="paper", yref="paper", x=px(L - 26),
                            y=py(T + 3), xanchor="center", yanchor="middle", showarrow=False,
                            font=dict(family=FONT, size=22, color="#111")))

for t, ty in zip(group_titles, TITLE_Y):
    annotations.append(dict(text="<b>" + t + "</b>", xref="paper", yref="paper", x=px(311), y=py(ty),
                            xanchor="center", yanchor="middle", showarrow=False,
                            font=dict(family=FONT, size=14, color="#111")))

layout["shapes"] = shapes
layout["annotations"] = annotations
fig.update_layout(**layout)
fig.write_html("out.html", config={"displayModeBar": False},
               post_script="document.body.style.margin='0';document.body.style.padding='0';")
